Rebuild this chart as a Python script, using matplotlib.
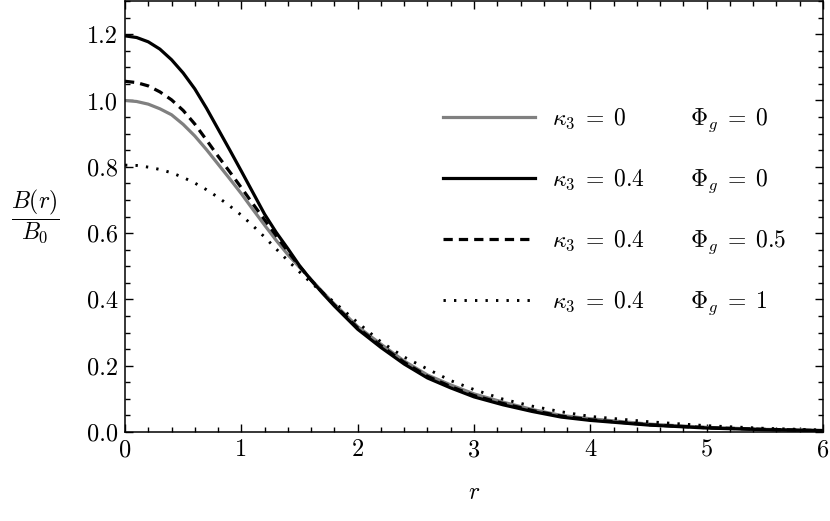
import matplotlib
matplotlib.use("Agg")
import matplotlib.pyplot as plt
from matplotlib.ticker import MultipleLocator
from matplotlib.transforms import blended_transform_factory, IdentityTransform

plt.rcParams['font.family'] = ['cmr10', 'DejaVu Serif']
plt.rcParams['mathtext.fontset'] = 'cm'

# values
r = [0.0, 0.1, 0.2, 0.3, 0.4, 0.5, 0.6, 0.7, 0.8, 0.9, 1.0, 1.1, 1.2, 1.3, 1.4,
     1.5, 1.6, 1.7, 1.8, 2.0, 2.2, 2.4, 2.6, 2.8, 3.0, 3.25, 3.5, 3.75, 4.0,
     4.5, 5.0, 5.5, 6.0]
b_k0_p0 = [1.000, 0.997, 0.989, 0.975, 0.957, 0.928, 0.893, 0.852, 0.808, 0.764,
           0.719, 0.671, 0.624, 0.578, 0.535, 0.497, 0.460, 0.422, 0.386,
           0.318, 0.265, 0.214, 0.172, 0.142, 0.115, 0.090, 0.068, 0.050, 0.040,
           0.024, 0.014, 0.008, 0.005]
b_k04_p0 = [1.195, 1.190, 1.177, 1.155, 1.123, 1.083, 1.035, 0.977, 0.914, 0.851,
            0.787, 0.722, 0.657, 0.602, 0.553, 0.502, 0.458, 0.418, 0.380,
            0.310, 0.255, 0.205, 0.163, 0.133, 0.106, 0.082, 0.062, 0.045, 0.035,
            0.021, 0.012, 0.007, 0.004]
b_k04_p05 = [1.058, 1.054, 1.044, 1.026, 1.002, 0.970, 0.929, 0.881, 0.832, 0.785,
             0.737, 0.688, 0.640, 0.592, 0.545, 0.500, 0.458, 0.420, 0.383,
             0.314, 0.260, 0.210, 0.168, 0.137, 0.110, 0.086, 0.065, 0.048, 0.037,
             0.022, 0.013, 0.008, 0.004]
b_k04_p1 = [0.805, 0.804, 0.799, 0.792, 0.782, 0.768, 0.751, 0.731, 0.708, 0.682,
            0.654, 0.622, 0.588, 0.552, 0.517, 0.483, 0.450, 0.420, 0.391,
            0.330, 0.272, 0.226, 0.190, 0.155, 0.128, 0.099, 0.078, 0.061, 0.047,
            0.031, 0.019, 0.011, 0.006]

kappa_labels = [r'$\kappa_3\;=\;0$', r'$\kappa_3\;=\;0.4$', r'$\kappa_3\;=\;0.4$',
                r'$\kappa_3\;=\;0.4$']
phi_labels = [r'$\Phi_g\;=\;0$', r'$\Phi_g\;=\;0$', r'$\Phi_g\;=\;0.5$',
              r'$\Phi_g\;=\;1$']

fig = plt.figure(figsize=(8.3, 5.21), dpi=100)
ax = fig.add_axes([0.1506, 0.1708, 0.8410, 0.8272])

l1, = ax.plot(r, b_k0_p0, color='#808080', lw=2.3)
l2, = ax.plot(r, b_k04_p0, color='black', lw=2.3)
l3, = ax.plot(r, b_k04_p05, color='black', lw=2.3, dashes=(2.9, 1.9))
l4, = ax.plot(r, b_k04_p1, color='black', lw=2.1, dashes=(0.8, 2.8))

ax.set_xlim(0, 6)
ax.set_ylim(0, 1.3)
ax.xaxis.set_major_locator(MultipleLocator(1))
ax.xaxis.set_minor_locator(MultipleLocator(0.2))
ax.yaxis.set_minor_locator(MultipleLocator(0.05))
ax.set_yticks([0, 0.2, 0.4, 0.6, 0.8, 1.0, 1.2])
ax.set_yticklabels(['0.0', '0.2', '0.4', '0.6', '0.8', '1.0', '1.2'])
ax.tick_params(which='both', direction='in', top=True, right=True, width=1.0,
               labelsize=17.5)
ax.tick_params(which='major', length=6, pad=5)
ax.tick_params(which='minor', length=3.5)
for s in ax.spines.values():
    s.set_linewidth(1.1)

ax.set_xlabel(r'$r$', fontsize=17, labelpad=15)
ax.set_ylabel(r'$\dfrac{B(r)}{B_0}$', fontsize=17, rotation=0)
ax.yaxis.set_label_coords(-0.128, 0.50)
ax.yaxis.label.set_va('center')
ax.yaxis.label.set_ha('center')

leg = ax.legend([l1, l2, l3, l4], kappa_labels, loc='upper left',
                bbox_to_anchor=(0.4556, 0.755), frameon=False, fontsize=17,
                handlelength=3.9, handletextpad=0.7, labelspacing=1.56,
                borderpad=0, borderaxespad=0)

# second column of the legend, put on the same baselines as the first
fig.canvas.draw()
trans = blended_transform_factory(ax.transAxes, IdentityTransform())
for t, lab in zip(leg.get_texts(), phi_labels):
    x, y = t.get_transform().transform(t.get_position())
    ax.text(0.8095, y, lab, transform=trans, fontsize=17,
            va=t.get_va(), ha='left')

fig.savefig('out.png', dpi=100)
